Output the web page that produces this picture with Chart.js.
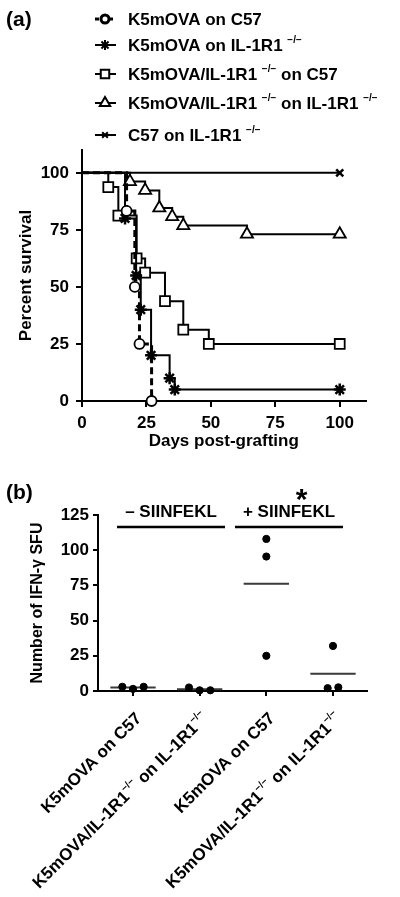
<!DOCTYPE html>
<html>
<head>
<meta charset="utf-8">
<script src="https://cdn.jsdelivr.net/npm/chart.js@4/dist/chart.umd.min.js"></script>
<style>
html, body { margin: 0; padding: 0; background: #fff; }
#wrap { position: relative; width: 400px; height: 897px; }
canvas { position: absolute; left: 0; }
#survival { top: 0; }
#elispot { top: 455px; }
</style>
</head>
<body>
<div id="wrap">
  <canvas id="survival" width="400" height="455"></canvas>
  <canvas id="elispot" width="400" height="442"></canvas>
</div>
<script>
// ---- data: panel (a) survival ----
const survivalLabels = ['K5mOVA on C57', 'K5mOVA on IL-1R1 −/−', 'K5mOVA/IL-1R1 −/− on C57',
  'K5mOVA/IL-1R1 −/− on IL-1R1 −/−', 'C57 on IL-1R1 −/−'];
const wtOnC57Days = [0, 17.3, 20.5, 22.3, 27];
const wtOnC57Pct = [100, 83.3, 50, 25, 0];
const wtOnKoDays = [0, 16.7, 21, 22.8, 26.8, 34, 36, 100];
const wtOnKoPct = [100, 80, 55, 40, 20, 10, 5, 5];
const koOnC57Days = [0, 10.2, 14.1, 21.2, 24.5, 32.2, 39.3, 49.2, 100];
const koOnC57Pct = [100, 93.75, 81.25, 62.5, 56.25, 43.75, 31.25, 25, 25];
const koOnKoDays = [0, 18.6, 24.5, 30, 35, 39.3, 64, 100];
const koOnKoPct = [100, 96.15, 92.3, 84.6, 80.8, 76.9, 73.1, 73.1];
const c57OnKoDays = [0, 100];
const c57OnKoPct = [100, 100];
const dayTicks = [0, 25, 50, 75, 100];
const pctTicks = [0, 25, 50, 75, 100];

// ---- data: panel (b) IFN-g ELISpot ----
const spotGroups = ['K5mOVA on C57', 'K5mOVA/IL-1R1−/− on IL-1R1−/−', 'K5mOVA on C57', 'K5mOVA/IL-1R1−/− on IL-1R1−/−'];
const spotsC57Minus = [3, 1.5, 3];
const spotsKoMinus = [2.5, 0.5, 0.5];
const spotsC57Plus = [108, 95.5, 25];
const spotsKoPlus = [2, 32, 2.6];
const peptideLabels = ['– SIINFEKL', '+ SIINFEKL'];
const sfuTicks = [0, 25, 50, 75, 100, 125];

const FONT = "Arial, 'Liberation Sans', sans-serif";
const SUP = '−/−';
Chart.defaults.font.family = FONT;
Chart.defaults.font.weight = 'bold';
Chart.defaults.font.size = 17;
Chart.defaults.color = '#000';

// text with raised small "-/-" parts
function drawRich(ctx, text, x, y, size, align) {
  const parts = text.split(/(−\/−)/).filter(p => p.length);
  const main = 'bold ' + size + 'px ' + FONT;
  const sup = 'bold ' + Math.round(size * 0.6) + 'px ' + FONT;
  let w = 0;
  parts.forEach(p => { ctx.font = p === SUP ? sup : main; w += ctx.measureText(p).width; });
  let cx = align === 'right' ? x - w : x;
  ctx.textAlign = 'left';
  parts.forEach(p => {
    const isSup = p === SUP;
    ctx.font = isSup ? sup : main;
    ctx.fillText(p, cx, isSup ? y - size * 0.36 : y);
    cx += ctx.measureText(p).width;
  });
}

function keepTicks(list) {
  return scale => { scale.ticks = list.map(v => ({value: v})); };
}

// ---- panel (a) ----
const survivalDefs = [
  {days: wtOnC57Days, pct: wtOnC57Pct, style: 'circle', r: 5, dash: [7, 4], width: 3},
  {days: wtOnKoDays, pct: wtOnKoPct, style: 'star', r: 6, dash: [], width: 2},
  {days: koOnC57Days, pct: koOnC57Pct, style: 'rect', r: 7, dash: [], width: 2},
  {days: koOnKoDays, pct: koOnKoPct, style: 'triangle', r: 7, dash: [], width: 2},
  {days: c57OnKoDays, pct: c57OnKoPct, style: 'crossRot', r: 5, dash: [], width: 2}
];

const survivalDatasets = survivalDefs.map((d, i) => ({
  label: survivalLabels[i],
  data: d.days.map((x, j) => ({x: x, y: d.pct[j]})),
  stepped: 'before',
  borderColor: '#000',
  borderWidth: d.width,
  borderDash: d.dash,
  pointStyle: d.style,
  pointRadius: d.days.map((x, j) => j === 0 ? 0 : d.r),
  pointBackgroundColor: '#fff',
  pointBorderColor: '#000',
  pointBorderWidth: d.style === 'star' || d.style === 'crossRot' ? 2.5 : 1.8,
  clip: false
}));

const survivalLegend = {
  id: 'survivalLegend',
  afterDraw(chart) {
    const ctx = chart.ctx;
    const rows = [19, 45, 74, 103, 135];
    ctx.save();
    ctx.fillStyle = '#000';
    ctx.textBaseline = 'middle';
    ctx.font = 'bold 21px ' + FONT;
    ctx.textAlign = 'left';
    ctx.fillText('(a)', 6, 20);
    survivalDefs.forEach((d, i) => {
      const y = rows[i];
      ctx.strokeStyle = '#000';
      ctx.lineWidth = d.width;
      ctx.setLineDash(d.dash.length ? [4, 3] : []);
      ctx.beginPath();
      ctx.moveTo(95, y);
      ctx.lineTo(116, y);
      ctx.stroke();
      ctx.setLineDash([]);
      ctx.fillStyle = '#fff';
      Chart.helpers.drawPoint(ctx, {pointStyle: d.style, radius: d.r - 1, borderWidth: 1.8}, 105, y);
      ctx.fillStyle = '#000';
      drawRich(ctx, survivalLabels[i], 128, y + 1, 17, 'left');
    });
    ctx.restore();
  }
};

new Chart(document.getElementById('survival'), {
  type: 'line',
  data: {datasets: survivalDatasets},
  options: {
    responsive: false,
    animation: false,
    layout: {padding: {top: 150, right: 34.5, left: 0, bottom: 0}},
    plugins: {legend: {display: false}, tooltip: {enabled: false}},
    scales: {
      x: {
        type: 'linear', min: 0, max: 110,
        afterBuildTicks: keepTicks(dayTicks),
        afterFit: s => { s.height = 54; },
        grid: {drawOnChartArea: false, tickLength: 6, color: '#000', lineWidth: 2},
        border: {color: '#000', width: 2},
        ticks: {padding: 6},
        title: {display: true, text: 'Days post-grafting', padding: {top: 0, bottom: 3}}
      },
      y: {
        type: 'linear', min: 0, max: 110,
        afterBuildTicks: keepTicks(pctTicks),
        afterFit: s => { s.width = 82; },
        grid: {drawOnChartArea: false, tickLength: 6, color: '#000', lineWidth: 2},
        border: {color: '#000', width: 2},
        ticks: {padding: 7},
        title: {display: true, text: 'Percent survival', padding: {top: 16, bottom: 0}}
      }
    }
  },
  plugins: [survivalLegend]
});

// ---- panel (b) ----
const spotSets = [spotsC57Minus, spotsKoMinus, spotsC57Plus, spotsKoPlus];

// spread points that sit close together, like a column scatter
function jitter(values) {
  const close = values.map((v, i) => values.some((w, j) => j !== i && Math.abs(v - w) < 6));
  const idx = values.map((v, i) => i).filter(i => close[i]);
  const step = idx.length > 2 ? 0.16 : 0.08;
  const offs = values.map(() => 0);
  idx.forEach((i, k) => { offs[i] = (k - (idx.length - 1) / 2) * step * (idx.length > 2 ? 1 : 2); });
  return offs;
}

const dotData = [];
const meanData = [];
spotSets.forEach((vals, g) => {
  const offs = jitter(vals);
  vals.forEach((v, i) => dotData.push({x: g + offs[i], y: v}));
  const mean = vals.reduce((a, b) => a + b, 0) / vals.length;
  meanData.push({x: g - 0.34, y: mean}, {x: g + 0.34, y: mean}, {x: g + 0.4, y: null});
});

const elispotDecor = {
  id: 'elispotDecor',
  afterDraw(chart) {
    const {ctx, chartArea} = chart;
    const x = chart.scales.x, y = chart.scales.y;
    ctx.save();
    ctx.fillStyle = '#000';
    ctx.strokeStyle = '#000';
    ctx.textBaseline = 'middle';
    ctx.font = 'bold 21px ' + FONT;
    ctx.textAlign = 'left';
    ctx.fillText('(b)', 6, 38);
    spotGroups.forEach((label, i) => {
      ctx.save();
      ctx.translate(x.getPixelForValue(i) + 6, chartArea.bottom + 25);
      ctx.rotate(-Math.PI / 4);
      drawRich(ctx, label, 0, 0, 17, 'right');
      ctx.restore();
    });
    const spans = [[-0.24, 1.38], [1.53, 3.15]];
    spans.forEach((s, k) => {
      const yy = y.getPixelForValue(116.5);
      ctx.lineWidth = 2.5;
      ctx.beginPath();
      ctx.moveTo(x.getPixelForValue(s[0]), yy);
      ctx.lineTo(x.getPixelForValue(s[1]), yy);
      ctx.stroke();
      ctx.font = 'bold 17px ' + FONT;
      ctx.textAlign = 'center';
      ctx.fillText(peptideLabels[k], x.getPixelForValue((s[0] + s[1]) / 2), y.getPixelForValue(127));
    });
    ctx.font = 'bold 30px ' + FONT;
    ctx.textAlign = 'center';
    ctx.textBaseline = 'alphabetic';
    ctx.fillText('*', x.getPixelForValue(2.53), y.getPixelForValue(129));
    ctx.restore();
  }
};

new Chart(document.getElementById('elispot'), {
  type: 'scatter',
  data: {
    datasets: [
      {data: dotData, pointRadius: 3.6, pointBackgroundColor: '#000', pointBorderColor: '#000', clip: false},
      {data: meanData, showLine: true, spanGaps: false, pointRadius: 0, borderColor: '#3a3a3a', borderWidth: 2}
    ]
  },
  options: {
    responsive: false,
    animation: false,
    layout: {padding: {top: 60, right: 33, left: 0, bottom: 0}},
    plugins: {legend: {display: false}, tooltip: {enabled: false}},
    scales: {
      x: {
        type: 'linear', min: -0.525, max: 3.51,
        afterBuildTicks: keepTicks([0, 1, 2, 3]),
        afterFit: s => { s.height = 206; },
        grid: {drawOnChartArea: false, tickLength: 5, color: '#000', lineWidth: 2},
        border: {color: '#000', width: 2},
        ticks: {display: false}
      },
      y: {
        type: 'linear', min: 0, max: 125,
        afterBuildTicks: keepTicks(sfuTicks),
        afterFit: s => { s.width = 98; },
        grid: {drawOnChartArea: false, tickLength: 5, color: '#000', lineWidth: 2},
        border: {color: '#000', width: 2},
        ticks: {padding: 4},
        title: {display: true, text: 'Number of IFN-γ SFU', font: {size: 16}, padding: {top: 28, bottom: 0}}
      }
    }
  },
  plugins: [elispotDecor]
});
</script>
</body>
</html>
